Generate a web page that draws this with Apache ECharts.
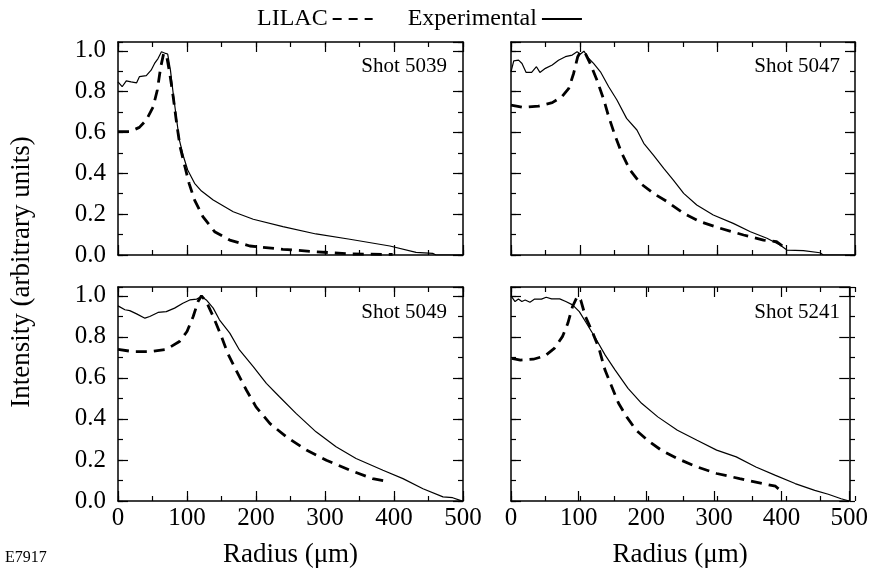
<!DOCTYPE html>
<html><head><meta charset="utf-8">
<script src="https://cdn.jsdelivr.net/npm/echarts@6/dist/echarts.min.js"></script>
<style>html,body{margin:0;padding:0;background:#fff}#c{width:871px;height:579px}</style>
</head><body><div id="c"></div>
<script>
// ---- data ----
const shotNames = ['Shot 5039', 'Shot 5047', 'Shot 5049', 'Shot 5241'];
const xTicks = [0, 100, 200, 300, 400, 500];
const yTicks = [0, 0.2, 0.4, 0.6, 0.8, 1.0];

const exp5039R = [0,6,12,19,27,31,41,48,53,58,63,69,72,76,80,85,89,95,101,111,121,138,167,196,239,287,336,394,432,456,461,500];
const exp5039I = [0.848,0.824,0.853,0.848,0.843,0.873,0.878,0.905,0.938,0.962,0.995,0.987,0.984,0.905,0.791,0.661,0.563,0.481,0.416,0.351,0.313,0.269,0.212,0.175,0.139,0.103,0.077,0.044,0.013,0.008,0,0];
const lil5039R = [0,17,31,41,51,57,62,66,70,75,80,85,90,97,103,111,123,140,162,191,239,287,336,398];
const lil5039I = [0.604,0.604,0.625,0.661,0.726,0.808,0.922,0.984,0.984,0.889,0.775,0.644,0.530,0.432,0.351,0.269,0.188,0.114,0.073,0.044,0.028,0.016,0.005,0.003];

const exp5047R = [0,4,11,16,22,30,37,42,50,60,69,79,89,96,101,106,113,120,130,142,154,168,183,193,207,222,236,251,270,294,323,348,372,391,401,425,449,454,500];
const exp5047I = [0.897,0.951,0.954,0.938,0.894,0.894,0.922,0.894,0.914,0.930,0.954,0.971,0.979,0.995,0.984,0.998,0.962,0.938,0.897,0.824,0.759,0.669,0.612,0.547,0.489,0.424,0.367,0.302,0.245,0.196,0.155,0.114,0.082,0.049,0.024,0.021,0.011,0,0];
const lil5047R = [0,18,40,60,74,84,91,97,101,108,115,125,135,142,151,161,173,188,207,227,251,275,304,338,367,386,396];
const lil5047I = [0.734,0.723,0.729,0.746,0.775,0.816,0.889,0.971,0.995,0.987,0.938,0.856,0.759,0.677,0.587,0.498,0.416,0.351,0.302,0.261,0.204,0.163,0.131,0.098,0.073,0.065,0.041];

const exp5049R = [0,10,17,27,39,46,58,70,82,94,104,114,121,128,138,147,162,176,196,215,234,258,287,316,345,384,413,442,471,485,497,500];
const exp5049I = [0.951,0.932,0.928,0.912,0.891,0.899,0.919,0.923,0.940,0.964,0.980,0.984,0.997,0.980,0.940,0.883,0.818,0.736,0.655,0.573,0.508,0.427,0.337,0.264,0.207,0.150,0.109,0.060,0.020,0.016,0.002,0];
const lil5049R = [0,22,46,70,89,100,109,116,121,128,138,150,159,171,186,200,220,244,273,302,336,369,394];
const lil5049I = [0.739,0.728,0.728,0.739,0.777,0.826,0.899,0.972,1.0,0.972,0.899,0.801,0.720,0.638,0.541,0.459,0.378,0.313,0.248,0.199,0.150,0.109,0.093];

const exp5241R = [0,6,11,16,21,28,35,45,52,60,72,81,91,101,110,125,139,154,173,193,217,246,275,304,333,362,391,420,449,469,488,500];
const exp5241I = [1.0,0.972,0.984,0.972,0.980,0.969,0.984,0.984,0.993,0.985,0.985,0.972,0.956,0.923,0.875,0.793,0.712,0.638,0.549,0.476,0.410,0.345,0.296,0.248,0.215,0.166,0.125,0.085,0.052,0.033,0.011,0];
const lil5241R = [1,14,33,50,64,76,84,91,98,103,110,120,130,139,149,159,171,185,202,222,246,275,304,338,372,391,398,400];
const lil5241I = [0.695,0.687,0.691,0.707,0.744,0.801,0.866,0.948,0.997,0.980,0.899,0.826,0.744,0.638,0.557,0.476,0.410,0.345,0.296,0.248,0.207,0.166,0.134,0.109,0.085,0.072,0.052,0.036];

// ---- layout ----
const FONT = 'Liberation Serif';
const panels = [
  {left:118, top:42, width:345, height:213},
  {left:511, top:42, width:344, height:213},
  {left:118, top:287, width:345, height:214},
  {left:511, top:287, width:344, height:214}
];
const yMax = 1.043;
const expSets = [[exp5039R,exp5039I],[exp5047R,exp5047I],[exp5049R,exp5049I],[exp5241R,exp5241I]];
const lilSets = [[lil5039R,lil5039I],[lil5047R,lil5047I],[lil5049R,lil5049I],[lil5241R,lil5241I]];
const zip = (a, b) => a.map((v, i) => [v, b[i]]);

const xMin = xTicks[0], xMax = xTicks[xTicks.length-1], xInt = xTicks[1]-xTicks[0];
const yInt = yTicks[1]-yTicks[0];

const grids = [];
const xAxes = [];
const yAxes = [];
function axLine(show){ return {show, onZero:false, lineStyle:{color:'#000', width:1.5}}; }
function tick(len){ return {show:true, inside:true, length:len, lineStyle:{color:'#000', width:1.2}}; }
const labelStyle = {color:'#000', fontFamily:FONT, fontSize:25};

// main grids 0..3, minor grids 4..7
[0,1].forEach(layer => {
  panels.forEach((p, i) => {
    const g = layer*4 + i;
    grids.push({left:p.left, top:p.top, width:p.width, height:p.height, containLabel:false});
    const major = layer === 0;
    const bottomRow = i >= 2, leftCol = i % 2 === 0;
    ['bottom','top'].forEach(pos => {
      xAxes.push({
        type:'value', gridIndex:g, position:pos, min:xMin, max:xMax,
        interval: major ? xInt : xInt/2,
        axisLine: axLine(major), axisTick: tick(major ? 10 : 5),
        axisLabel: {show: major && pos==='bottom' && bottomRow, margin:5, ...labelStyle},
        splitLine:{show:false},
        name: (major && pos==='bottom' && bottomRow) ? 'Radius (\u03bcm)' : '',
        nameLocation:'middle', nameGap:40,
        nameTextStyle:{color:'#000', fontFamily:FONT, fontSize:27}
      });
    });
    ['left','right'].forEach(pos => {
      yAxes.push({
        type:'value', gridIndex:g, position:pos, min:yTicks[0], max:yMax,
        interval: major ? yInt : yInt/2,
        axisLine: axLine(major), axisTick: tick(major ? 10 : 5),
        axisLabel: {show: major && pos==='left' && leftCol, margin:12, showMaxLabel:false,
          formatter: v => v.toFixed(1), ...labelStyle},
        splitLine:{show:false}
      });
    });
  });
});

const series = [];
panels.forEach((p, i) => {
  series.push({
    name:'LILAC', type:'line', xAxisIndex:2*i, yAxisIndex:2*i, symbol:'none', color:'#000',
    itemStyle:{color:'#000'},
    lineStyle:{color:'#000', width:2.8, type:[11,7]}, data: zip(lilSets[i][0], lilSets[i][1]),
    silent:true
  });
  series.push({
    name:'Experimental', type:'line', xAxisIndex:2*i, yAxisIndex:2*i, symbol:'none', color:'#000',
    itemStyle:{color:'#000'},
    lineStyle:{color:'#000', width:1.2}, data: zip(expSets[i][0], expSets[i][1]),
    silent:true
  });
});

const shotPos = [[447,66],[840,66],[447,312],[840,312]];
const graphic = shotNames.map((s, i) => ({
  type:'text', x:shotPos[i][0], y:shotPos[i][1],
  style:{text:s, fill:'#000', font:'21px "Liberation Serif"', align:'right', verticalAlign:'middle'}
}));
graphic.push({type:'text', x:22, y:272, rotation:Math.PI/2,
  style:{text:'Intensity (arbitrary units)', fill:'#000', font:'27px "Liberation Serif"', align:'center', verticalAlign:'middle'}});
graphic.push({type:'text', x:5, y:558,
  style:{text:'E7917', fill:'#000', font:'16px "Liberation Serif"', align:'left', verticalAlign:'middle'}});

const chart = echarts.init(document.getElementById('c'));
chart.setOption({
  animation:false,
  backgroundColor:'#fff',
  legend:{
    left:252, top:2, align:'right', itemGap:34, itemWidth:40, itemHeight:14, selectedMode:false,
    itemStyle:{opacity:0},
    textStyle:{color:'#000', fontFamily:FONT, fontSize:24},
    data:[{name:'LILAC', lineStyle:{type:[9,7]}}, {name:'Experimental'}]
  },
  grid: grids, xAxis: xAxes, yAxis: yAxes, series, graphic
});
</script></body></html>
